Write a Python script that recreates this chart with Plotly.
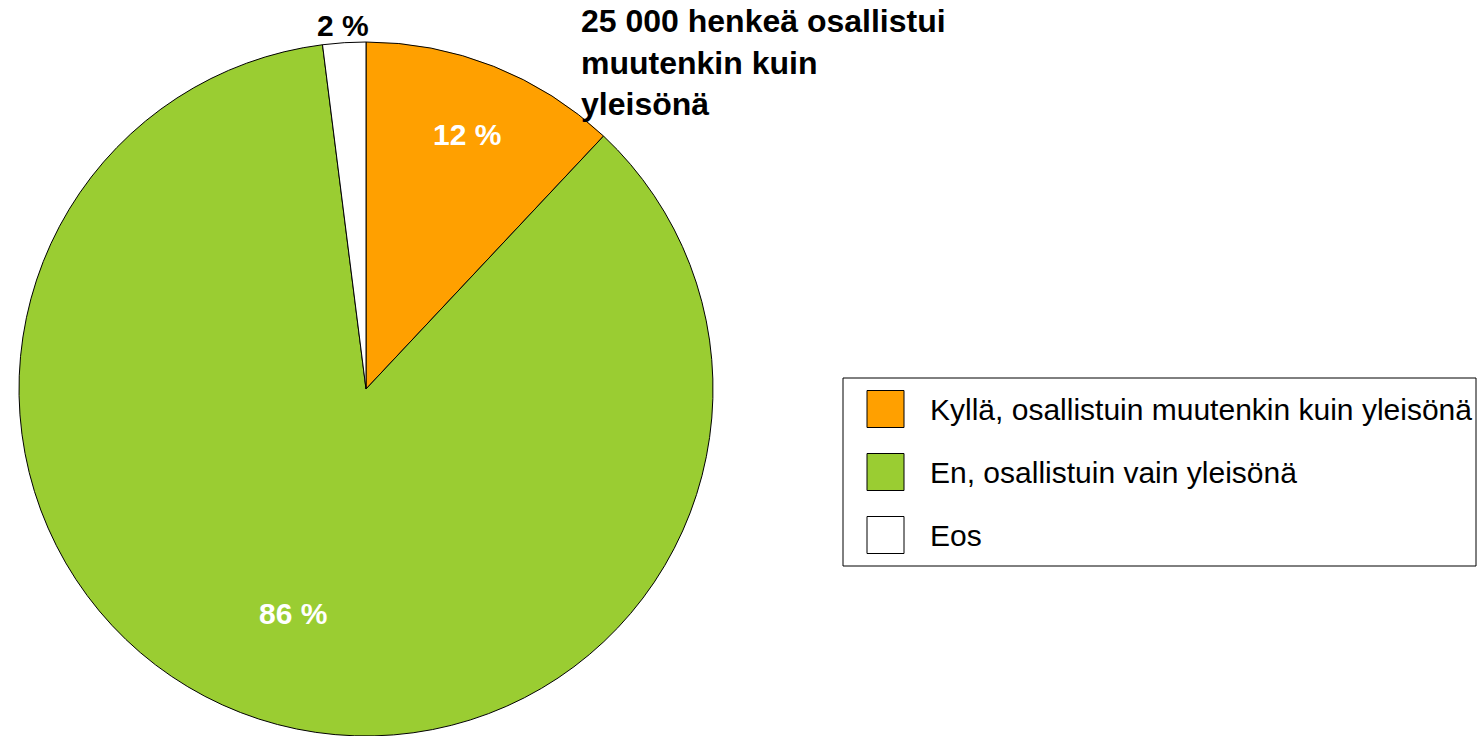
import math
import plotly.graph_objects as go

categories = ["Kyllä, osallistuin muutenkin kuin yleisönä", "En, osallistuin vain yleisönä", "Eos"]
values = [12, 86, 2]
colors = ["#FFA000", "#9ACD32", "#FFFFFF"]
label_colors = ["#FFFFFF", "#FFFFFF", "#000000"]
label_radius = [0.79, 0.68, 1.05]  # fraction of pie radius where each value label sits
note_text = "25 000 henkeä osallistui<br>muutenkin kuin<br>yleisönä"

W, H = 1484, 736
FONT = "Liberation Sans, Arial, sans-serif"

# pie geometry (pixels)
px0, px1, py0, py1 = 19, 713, 42, 736
cx, cy = (px0 + px1) / 2, (py0 + py1) / 2
R = min(px1 - px0, py1 - py0) / 2

fig = go.Figure()
fig.add_trace(go.Pie(
    labels=categories,
    values=values,
    sort=False,
    direction="clockwise",
    rotation=0,
    marker=dict(colors=colors, line=dict(color="#000000", width=1)),
    textposition="none",
    hoverinfo="label+percent",
    showlegend=False,
    domain=dict(x=[px0 / W, px1 / W], y=[1 - py1 / H, 1 - py0 / H]),
))

annotations = []
shapes = []

# value labels placed at slice mid-angles
total = sum(values)
cum = 0
for v, lc, f in zip(values, label_colors, label_radius):
    mid = (cum + v / 2) / total * 2 * math.pi
    cum += v
    x = cx + f * R * math.sin(mid)
    y = cy - f * R * math.cos(mid)
    annotations.append(dict(xref="paper", yref="paper", x=x / W, y=1 - y / H,
                            xanchor="center", yanchor="middle", showarrow=False,
                            text=f"{v} %",
                            font=dict(size=30, color=lc, family=FONT, weight="bold")))

# custom legend (box, swatches, labels)
lx0, lx1, ly0, ly1 = 843, 1476, 378, 566
shapes.append(dict(type="rect", xref="paper", yref="paper",
                   x0=lx0 / W, x1=lx1 / W, y0=1 - ly1 / H, y1=1 - ly0 / H,
                   line=dict(color="#000000", width=1), fillcolor="rgba(0,0,0,0)"))
row_y = [409, 472, 535]
for cat, col, yc in zip(categories, colors, row_y):
    shapes.append(dict(type="rect", xref="paper", yref="paper",
                       x0=867 / W, x1=904 / W, y0=1 - (yc + 18.5) / H, y1=1 - (yc - 18.5) / H,
                       line=dict(color="#000000", width=1), fillcolor=col))
    annotations.append(dict(xref="paper", yref="paper", x=928 / W, y=1 - yc / H,
                            xanchor="left", yanchor="middle", showarrow=False, text=cat,
                            font=dict(size=30, color="#000000", family=FONT)))

annotations.append(dict(xref="paper", yref="paper", x=579 / W, y=1 - 1 / H,
                        xanchor="left", yanchor="top", align="left", showarrow=False,
                        text=note_text,
                        font=dict(size=32, color="#000000", family=FONT, weight="bold")))

fig.update_layout(
    width=W, height=H,
    margin=dict(l=0, r=0, t=0, b=0),
    paper_bgcolor="#FFFFFF",
    plot_bgcolor="#FFFFFF",
    shapes=shapes,
    annotations=annotations,
)

fig.write_html("out.html",
               config={"displayModeBar": False},
               post_script="document.body.style.margin='0';document.body.style.overflow='hidden';")
